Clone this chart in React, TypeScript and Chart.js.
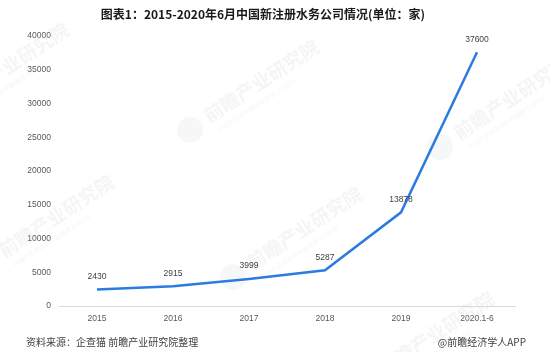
import React, { useEffect, useRef } from "react";
import { Chart, registerables } from "chart.js";

Chart.register(...registerables);

const categories = ["2015", "2016", "2017", "2018", "2019", "2020.1-6"];
const companies = [2430, 2915, 3999, 5287, 13878, 37600];
const yTicks = [0, 5000, 10000, 15000, 20000, 25000, 30000, 35000, 40000];
const titleText = "图表1：2015-2020年6月中国新注册水务公司情况(单位：家)";
const sourceText = "资料来源：企查猫 前瞻产业研究院整理";
const brandText = "@前瞻经济学人APP";
const watermarkText = "前瞻产业研究院";

const CJK = '"Noto Sans CJK SC", "Noto Sans", sans-serif';
const NUM = '"Liberation Sans", Arial, sans-serif';

const decorPlugin = {
  id: "decor",
  beforeDatasetsDraw(chart: any) {
    const ctx = chart.ctx;
    ctx.save();
    const marks = [
      [190, 130],
      [440, 147],
      [233, 277],
      [-15, 265],
      [-60, 113],
      [365, 382],
    ];
    for (const [x, y] of marks) {
      ctx.save();
      ctx.translate(x, y);
      ctx.rotate(-0.58);
      ctx.fillStyle = "rgba(215,220,228,0.22)";
      ctx.beginPath();
      ctx.arc(0, 0, 13, 0, Math.PI * 2);
      ctx.fill();
      ctx.font = "bold 19px " + CJK;
      ctx.fillStyle = "rgba(205,210,218,0.22)";
      ctx.textBaseline = "middle";
      ctx.textAlign = "left";
      ctx.fillText(watermarkText, 20, -2);
      ctx.font = "6px " + CJK;
      ctx.fillText("中国产业咨询领导者(股票 839599)", 24, 16);
      ctx.restore();
    }
    ctx.restore();
  },
  afterDraw(chart: any) {
    const ctx = chart.ctx;
    ctx.save();
    ctx.fillStyle = "#1a1a1a";
    ctx.font = "bold 12px " + CJK;
    ctx.textAlign = "center";
    ctx.textBaseline = "middle";
    ctx.fillText(titleText, 263, 14);
    ctx.fillStyle = "#404040";
    ctx.font = "10px " + CJK;
    ctx.textAlign = "left";
    ctx.fillText(sourceText, 26, 342);
    ctx.textAlign = "right";
    ctx.fillText(brandText, 526, 342);
    const meta = chart.getDatasetMeta(0);
    ctx.fillStyle = "#404040";
    ctx.font = "8.5px " + NUM;
    ctx.textAlign = "center";
    ctx.textBaseline = "middle";
    meta.data.forEach((pt: any, i: number) => {
      ctx.fillText(String(companies[i]), pt.x, pt.y - 13);
    });
    ctx.restore();
  },
};

export default function App() {
  const ref = useRef<HTMLCanvasElement | null>(null);
  useEffect(() => {
    document.body.style.margin = "0";
    const chart = new Chart(ref.current as HTMLCanvasElement, {
      type: "line",
      data: {
        labels: categories,
        datasets: [
          {
            data: companies,
            borderColor: "#2b7be0",
            borderWidth: 2.5,
            pointRadius: 0,
            tension: 0,
            fill: false,
          },
        ],
      },
      options: {
        animation: false,
        responsive: false,
        maintainAspectRatio: false,
        layout: { padding: { top: 36, right: 35, left: 0, bottom: 0 } },
        plugins: {
          legend: { display: false },
          tooltip: { enabled: false },
          title: { display: false },
        },
        scales: {
          x: {
            offset: true,
            grid: { display: false, drawTicks: false },
            border: { display: true, color: "#d9d9d9", width: 1 },
            ticks: {
              color: "#595959",
              font: { size: 8.5, family: NUM },
              padding: 8,
              maxRotation: 0,
              autoSkip: false,
            },
            afterFit(scale: any) {
              scale.height = 46;
            },
          },
          y: {
            min: 0,
            max: 40000,
            afterBuildTicks(scale: any) {
              scale.ticks = yTicks.map((v) => ({ value: v }));
            },
            grid: { display: false, drawTicks: false },
            border: { display: false },
            ticks: {
              color: "#595959",
              font: { size: 8.5, family: NUM },
              padding: 8,
              callback: (v: any) => String(v),
            },
            afterFit(scale: any) {
              scale.width = 59;
            },
          },
        },
      },
      plugins: [decorPlugin],
    });
    return () => chart.destroy();
  }, []);
  return (
    <div style={{ position: "absolute", left: 0, top: 0, width: 550, height: 352, background: "#fff" }}>
      <canvas ref={ref} width={550} height={352} />
    </div>
  );
}
